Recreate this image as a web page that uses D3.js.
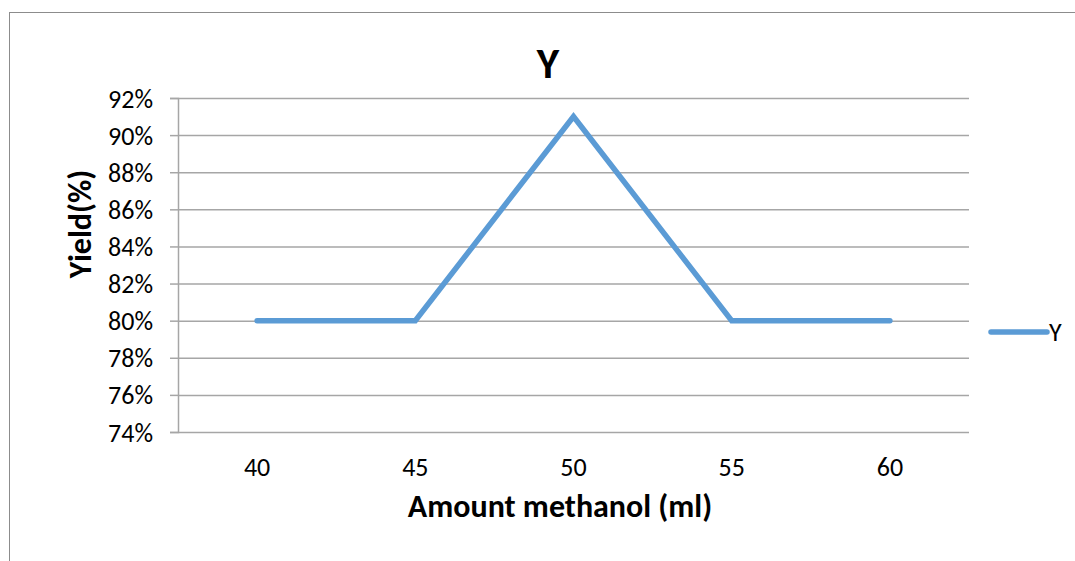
<!DOCTYPE html>
<html>
<head>
<meta charset="utf-8">
<script src="https://cdn.jsdelivr.net/npm/d3@7"></script>
<style>
  body { margin: 0; background: #fff; }
  svg text { font-family: Carlito, "Open Sans", "Noto Sans", sans-serif; fill: #000; }
</style>
</head>
<body>
<svg id="chart" width="1075" height="561"></svg>
<script>
// data
const amounts = ['40', '45', '50', '55', '60'];
const yieldValues = [0.80, 0.80, 0.91, 0.80, 0.80];
const yTicks = [0.74, 0.76, 0.78, 0.80, 0.82, 0.84, 0.86, 0.88, 0.90, 0.92];
const seriesName = 'Y';

const svg = d3.select('svg#chart');
const lineColor = '#5b9bd5';
const gridColor = '#a6a6a6';

// outer chart border (only left + top visible)
svg.append('rect')
    .attr('x', 9.5).attr('y', 12.5)
    .attr('width', 1200).attr('height', 700)
    .attr('fill', 'none')
    .attr('stroke', '#8c8c8c')
    .attr('stroke-width', 1);

const plot = {left: 178, right: 969, top: 98, bottom: 432};

let x = d3.scaleBand()
    .domain(amounts)
    .range([plot.left, plot.right]);
let y = d3.scaleLinear()
    .domain([0.74, 0.92])
    .range([plot.bottom, plot.top]);

// gridlines + y ticks
let yAxis = d3.axisLeft(y)
    .tickValues(yTicks)
    .tickSize(8)
    .tickFormat(d3.format('.0%'));
let yg = svg.append('g')
    .attr('transform', 'translate(' + plot.left + ',0)')
    .call(yAxis);
yg.select('.domain').attr('stroke', gridColor).attr('stroke-width', 1.5);
yg.selectAll('.tick line').attr('stroke', gridColor).attr('stroke-width', 1.5);
yg.selectAll('.tick text')
    .attr('x', -25)
    .attr('dy', '0.35em')
    .style('font-size', '26px');
yg.selectAll('.tick').append('line')
    .attr('x1', 0).attr('x2', plot.right - plot.left)
    .attr('stroke', gridColor).attr('stroke-width', 1.5);

// x labels
let xAxis = d3.axisBottom(x).tickSize(0);
let xg = svg.append('g')
    .attr('transform', 'translate(0,' + plot.bottom + ')')
    .call(xAxis);
xg.select('.domain').remove();
xg.selectAll('.tick text')
    .attr('y', 35)
    .attr('dy', '0.35em')
    .style('font-size', '26px');

// the line
let line = d3.line()
    .x((d, i) => x(amounts[i]) + x.bandwidth() / 2)
    .y(d => y(d));
svg.append('path')
    .datum(yieldValues)
    .attr('d', line)
    .attr('fill', 'none')
    .attr('stroke', lineColor)
    .attr('stroke-width', 5.5)
    .attr('stroke-linejoin', 'miter')
    .attr('stroke-linecap', 'round');

// title
svg.append('text')
    .attr('x', 548).attr('y', 78)
    .attr('text-anchor', 'middle')
    .style('font-size', '43px')
    .style('font-weight', 'bold')
    .text(seriesName);

// axis titles
svg.append('text')
    .attr('x', 560).attr('y', 517)
    .attr('text-anchor', 'middle')
    .style('font-size', '32px')
    .style('font-weight', 'bold')
    .text('Amount methanol (ml)');
svg.append('text')
    .attr('transform', 'translate(91,224) rotate(-90)')
    .attr('text-anchor', 'middle')
    .style('font-size', '32px')
    .style('font-weight', 'bold')
    .text('Yield(%)');

// legend
let legend = svg.append('g').attr('transform', 'translate(991,332)');
legend.append('line')
    .attr('x1', 0).attr('x2', 56)
    .attr('stroke', lineColor)
    .attr('stroke-width', 5.5)
    .attr('stroke-linecap', 'round');
legend.append('text')
    .attr('x', 58).attr('dy', '0.35em')
    .style('font-size', '26px')
    .text(seriesName);
</script>
</body>
</html>
